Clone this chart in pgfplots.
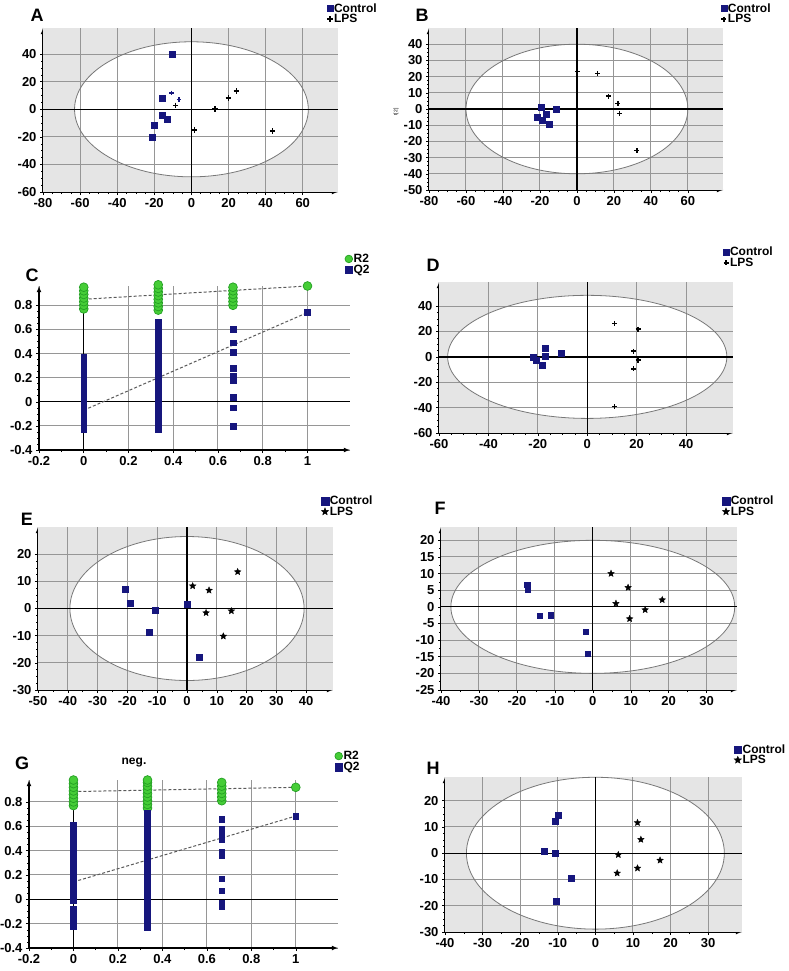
\documentclass[border=0pt]{standalone}
\usepackage{fontspec}
\setmainfont{Liberation Sans}
\usepackage{pgfplots}
\pgfplotsset{compat=1.18}
\definecolor{navy}{RGB}{22,22,125}
\definecolor{bggray}{RGB}{229,229,229}
\definecolor{gridgray}{RGB}{150,150,150}
\definecolor{ellgray}{RGB}{120,120,120}
\definecolor{rgreen}{RGB}{70,205,55}
\definecolor{rgreendk}{RGB}{35,160,35}

\pgfdeclareplotmark{fstar}{%
 \pgfpathmoveto{\pgfpointpolar{90}{\pgfplotmarksize}}%
 \pgfpathlineto{\pgfpointpolar{126}{0.45\pgfplotmarksize}}%
 \pgfpathlineto{\pgfpointpolar{162}{\pgfplotmarksize}}%
 \pgfpathlineto{\pgfpointpolar{198}{0.45\pgfplotmarksize}}%
 \pgfpathlineto{\pgfpointpolar{234}{\pgfplotmarksize}}%
 \pgfpathlineto{\pgfpointpolar{270}{0.45\pgfplotmarksize}}%
 \pgfpathlineto{\pgfpointpolar{306}{\pgfplotmarksize}}%
 \pgfpathlineto{\pgfpointpolar{342}{0.45\pgfplotmarksize}}%
 \pgfpathlineto{\pgfpointpolar{18}{\pgfplotmarksize}}%
 \pgfpathlineto{\pgfpointpolar{54}{0.45\pgfplotmarksize}}%
 \pgfpathclose
 \pgfusepathqfillstroke}

\pgfplotsset{
 panel/.style={
  scale only axis, clip=false,
  axis x line=bottom, axis y line=left,
  axis line style={black, line width=1.1pt, -latex},
  major grid style={gridgray, line width=1pt},
  tick align=outside, major tick length=3pt, minor tick length=2pt,
  tick style={black, line width=0.5pt},
  minor tick num=3,
  tick label style={font=\bfseries\fontsize{13}{13}\selectfont},
  /pgf/number format/assume math mode=true,
  legend style={draw=none, fill=none, inner sep=0pt, outer sep=0pt, anchor=north west,
    font=\bfseries\fontsize{12}{12}\selectfont, row sep=0.5pt, column sep=1pt,
    nodes={inner sep=0pt}},
  legend cell align=left,
  legend image code/.code={\draw[##1] plot coordinates {(2pt,0pt)};},
 },
 ctrl/.style={only marks, mark=square*, mark size=3pt, navy, mark options={fill=navy, draw=navy}},
 lpsplus/.style={only marks, mark=+, mark size=2.8pt, black, line width=1.6pt},
 lpsstar/.style={only marks, mark=fstar, mark size=3.4pt, black},
 rtwo/.style={only marks, mark=*, mark size=4.4pt, mark options={fill=rgreen, draw=rgreendk, line width=0.7pt}},
 qtwo/.style={only marks, mark=square*, mark size=2.9pt, navy},
 regline/.style={densely dashed, line width=1pt, black!65, no marks},
 bigleg/.style={legend image code/.code={\draw[##1, mark size=3.8pt] plot coordinates {(3pt,0pt)};}},
}

% background: xmin xmax ymin ymax rx ry xgrid ygrid
\newcommand{\bgell}[8]{%
 \fill[bggray] (axis cs:#1,#3) rectangle (axis cs:#2,#4);
 \fill[white] (axis cs:0,0) ellipse [x radius=#5, y radius=#6];
 \pgfplotsinvokeforeach{#7}{\draw[gridgray, line width=1pt] (axis cs:##1,#3) -- (axis cs:##1,#4);}
 \pgfplotsinvokeforeach{#8}{\draw[gridgray, line width=1pt] (axis cs:#1,##1) -- (axis cs:#2,##1);}
 \draw[ellgray, line width=0.8pt] (axis cs:0,0) ellipse [x radius=#5, y radius=#6];
 \draw[black, line width=1.3pt] (axis cs:#1,0) -- (axis cs:#2,0);
 \draw[black, line width=1.3pt] (axis cs:0,#3) -- (axis cs:0,#4);
}
\newcommand{\zl}[4]{%
 \draw[black, line width=1.3pt] (axis cs:#1,0) -- (axis cs:#2,0);
 \draw[black, line width=1.3pt] (axis cs:0,#3) -- (axis cs:0,#4);
}

\begin{document}
\begin{tikzpicture}
\path[use as bounding box] (0pt,0pt) rectangle (789pt,-971pt);

% ---------------- A ----------------
\begin{axis}[panel, at={(43pt,-192pt)}, anchor=south west, width=295pt, height=164pt,
  xmin=-80, xmax=79, ymin=-60, ymax=59,
  xtick={-80,-60,...,60}, ytick={-60,-40,...,40},
  legend style={at={(0.963,1.15)}}]
\bgell{-80}{79}{-60}{59}{63}{49}{-60,-40,-20,20,40,60}{-40,-20,20,40}
\addplot[ctrl] coordinates {(-10.6,40) (-15.7,7.9) (-16,-4.4) (-13,-7.4) (-20,-11.6) (-20.9,-20.2)};
\addlegendentry{Control}
\addplot[lpsplus] coordinates {(-8.5,2.8) (1.7,-14.8) (12.8,0.3) (20,8) (24.3,13.3) (43.8,-15.6)};
\addlegendentry{LPS}
\addplot[only marks, mark=+, mark size=2.3pt, navy, line width=1.2pt, forget plot] coordinates {(-10.8,11.9) (-6.7,6.9)};
\end{axis}

% ---------------- B ----------------
\begin{axis}[panel, at={(429pt,-190pt)}, anchor=south west, width=294pt, height=162pt,
  xmin=-80, xmax=79, ymin=-50, ymax=50,
  xtick={-80,-60,...,60}, ytick={-50,-40,...,40},
  legend style={at={(0.993,1.152)}}]
\bgell{-80}{79}{-50}{50}{60}{40}{-60,-40,-20,20,40,60}{-40,-30,-20,-10,10,20,30,40}
\addplot[ctrl] coordinates {(-19.3,1) (-11.4,0) (-21.6,-5.1) (-16.8,-3.3) (-19,-7.2) (-15,-9.5)};
\addlegendentry{Control}
\addplot[lpsplus, mark size=2.5pt, line width=1.4pt] coordinates {(0.4,23) (11.2,22) (17,8) (22.2,3.3) (23,-2.7) (32.4,-25.7)};
\addlegendentry{LPS}
\end{axis}
\node[rotate=90, font=\fontsize{5}{5}\selectfont] at (396pt,-112pt) {t[2]};

% ---------------- C ----------------
\begin{axis}[panel, grid=major, at={(39pt,-450pt)}, anchor=south west, width=311pt, height=164pt,
  xmin=-0.2, xmax=1.19, ymin=-0.4, ymax=0.96,
  xtick={-0.2,0,...,1}, ytick={-0.4,-0.2,...,0.8}, minor x tick num=1, minor y tick num=3,
  legend style={at={(0.984,1.195)}, row sep=1pt}, bigleg]
\zl{-0.2}{1.19}{-0.4}{0.8}
\addplot[rtwo] coordinates {
 (0,0.77) (0,0.80) (0,0.83) (0,0.86) (0,0.89) (0,0.92) (0,0.95)
 (0.333,0.76) (0.333,0.79) (0.333,0.82) (0.333,0.85) (0.333,0.88) (0.333,0.91) (0.333,0.94) (0.333,0.97)
 (0.667,0.80) (0.667,0.83) (0.667,0.86) (0.667,0.89) (0.667,0.92) (0.667,0.95)
 (1,0.96)};
\addlegendentry{R2}
\addplot[qtwo] coordinates {
 (0,-0.23) (0,-0.21) (0,-0.19) (0,-0.17) (0,-0.15) (0,-0.13) (0,-0.11) (0,-0.09) (0,-0.07) (0,-0.05)
 (0,-0.03) (0,-0.01) (0,0.01) (0,0.03) (0,0.05) (0,0.07) (0,0.09) (0,0.11) (0,0.13) (0,0.15)
 (0,0.17) (0,0.19) (0,0.21) (0,0.23) (0,0.25) (0,0.27) (0,0.29) (0,0.31) (0,0.33) (0,0.35) (0,0.37)
 (0.333,-0.23) (0.333,-0.21) (0.333,-0.19) (0.333,-0.17) (0.333,-0.15) (0.333,-0.13) (0.333,-0.11)
 (0.333,-0.09) (0.333,-0.07) (0.333,-0.05) (0.333,-0.03) (0.333,-0.01) (0.333,0.01) (0.333,0.03)
 (0.333,0.05) (0.333,0.07) (0.333,0.09) (0.333,0.11) (0.333,0.13) (0.333,0.15) (0.333,0.17)
 (0.333,0.19) (0.333,0.21) (0.333,0.23) (0.333,0.25) (0.333,0.27) (0.333,0.29) (0.333,0.31)
 (0.333,0.33) (0.333,0.35) (0.333,0.37) (0.333,0.39) (0.333,0.41) (0.333,0.43) (0.333,0.46)
 (0.333,0.50) (0.333,0.55) (0.333,0.58) (0.333,0.61) (0.333,0.64) (0.333,0.66)
 (0.667,0.60) (0.667,0.49) (0.667,0.41) (0.667,0.28) (0.667,0.21) (0.667,0.18) (0.667,0.04) (0.667,-0.05) (0.667,-0.20)
 (1,0.74)};
\addlegendentry{Q2}
\addplot[regline, forget plot] coordinates {(0,0.85) (1,0.96)};
\addplot[regline, forget plot] coordinates {(0,-0.07) (1,0.74)};
\end{axis}

% ---------------- D ----------------
\begin{axis}[panel, at={(439pt,-433pt)}, anchor=south west, width=294pt, height=151pt,
  xmin=-60, xmax=59, ymin=-60, ymax=59,
  xtick={-60,-40,...,40}, ytick={-60,-40,...,40},
  legend style={at={(0.966,1.23)}}]
\bgell{-60}{59}{-60}{59}{56.5}{48.5}{-40,-20,20,40}{-40,-20,20,40}
\addplot[ctrl] coordinates {(-21.7,0) (-20.8,-2.6) (-18.3,-6.5) (-17.2,6.7) (-17,0.3) (-10.5,2.8)};
\addlegendentry{Control}
\addplot[lpsplus, mark size=2.5pt, line width=1.4pt] coordinates {(11.1,26.3) (20.6,21.9) (18.7,4.6) (20.6,-2.6) (18.7,-9.5) (11.1,-39.2)};
\addlegendentry{LPS}
\end{axis}

% ---------------- E ----------------
\begin{axis}[panel, at={(38pt,-690pt)}, anchor=south west, width=295pt, height=163pt,
  xmin=-50, xmax=49, ymin=-30, ymax=30,
  xtick={-50,-40,...,40}, ytick={-30,-20,...,20}, minor x tick num=1,
  legend style={at={(0.96,1.19)}}, bigleg]
\bgell{-50}{49}{-30}{30}{39.3}{26.5}{-40,-30,-20,-10,10,20,30,40}{-20,-10,10,20}
\addplot[ctrl] coordinates {(-20.7,7) (-19,2.1) (-10.6,-0.6) (-12.8,-8.8) (0,1.5) (4.2,-18)};
\addlegendentry{Control}
\addplot[lpsstar] coordinates {(1.9,8.3) (7.4,6.7) (6.4,-1.6) (14.9,-0.9) (12.2,-10.2) (17,13.5)};
\addlegendentry{LPS}
\end{axis}

% ---------------- F ----------------
\begin{axis}[panel, at={(441pt,-690pt)}, anchor=south west, width=296pt, height=163pt,
  xmin=-40, xmax=38, ymin=-25, ymax=24,
  xtick={-40,-30,...,30}, ytick={-25,-20,...,20}, minor x tick num=1, minor y tick num=1,
  legend style={at={(0.95,1.19)}}, bigleg]
\bgell{-40}{38}{-25}{24}{37.4}{20}{-30,-20,-10,10,20,30}{-20,-15,-10,-5,5,10,15,20}
\addplot[ctrl, mark size=2.6pt] coordinates {(-17.3,6.6) (-17.2,5.2) (-14,-2.7) (-11,-2.5) (-1.8,-7.5) (-1.4,-14)};
\addlegendentry{Control}
\addplot[lpsstar] coordinates {(4.8,10) (9.3,5.8) (6.1,1) (9.7,-3.6) (13.8,-0.9) (18.3,2.1)};
\addlegendentry{LPS}
\end{axis}

% ---------------- G ----------------
\begin{axis}[panel, grid=major, at={(29pt,-948pt)}, anchor=south west, width=309pt, height=168pt,
  xmin=-0.2, xmax=1.19, ymin=-0.4, ymax=0.98,
  xtick={-0.2,0,...,1}, ytick={-0.4,-0.2,...,0.8}, minor x tick num=1, minor y tick num=3,
  legend style={at={(0.99,1.172)}, row sep=1pt}, bigleg]
\zl{-0.2}{1.19}{-0.4}{0.8}
\addplot[rtwo] coordinates {
 (0,0.77) (0,0.80) (0,0.83) (0,0.86) (0,0.89) (0,0.92) (0,0.95) (0,0.98)
 (0.333,0.75) (0.333,0.78) (0.333,0.81) (0.333,0.84) (0.333,0.87) (0.333,0.90) (0.333,0.93) (0.333,0.96) (0.333,0.98)
 (0.667,0.81) (0.667,0.84) (0.667,0.87) (0.667,0.90) (0.667,0.93) (0.667,0.96)
 (1,0.92)};
\addlegendentry{R2}
\addplot[qtwo] coordinates {
 (0,-0.22) (0,-0.20) (0,-0.18) (0,-0.16) (0,-0.14) (0,-0.12) (0,-0.10) (0,-0.08)
 (0,-0.01) (0,0.01) (0,0.03) (0,0.05) (0,0.07) (0,0.09) (0,0.11) (0,0.13) (0,0.15) (0,0.17)
 (0,0.19) (0,0.21) (0,0.23) (0,0.25) (0,0.27) (0,0.29) (0,0.31) (0,0.33) (0,0.35) (0,0.37)
 (0,0.39) (0,0.41) (0,0.43) (0,0.45) (0,0.47) (0,0.49) (0,0.51) (0,0.53) (0,0.55) (0,0.57) (0,0.59) (0,0.61)
 (0.333,-0.23) (0.333,-0.21) (0.333,-0.19) (0.333,-0.17) (0.333,-0.15) (0.333,-0.13) (0.333,-0.11)
 (0.333,-0.09) (0.333,-0.07) (0.333,-0.05) (0.333,-0.03) (0.333,-0.01) (0.333,0.01) (0.333,0.03)
 (0.333,0.05) (0.333,0.07) (0.333,0.09) (0.333,0.11) (0.333,0.13) (0.333,0.15) (0.333,0.17)
 (0.333,0.19) (0.333,0.21) (0.333,0.23) (0.333,0.25) (0.333,0.27) (0.333,0.29) (0.333,0.31)
 (0.333,0.33) (0.333,0.35) (0.333,0.37) (0.333,0.39) (0.333,0.41) (0.333,0.43) (0.333,0.45)
 (0.333,0.47) (0.333,0.49) (0.333,0.51) (0.333,0.53) (0.333,0.55) (0.333,0.57) (0.333,0.59)
 (0.333,0.61) (0.333,0.63) (0.333,0.65) (0.333,0.67) (0.333,0.69) (0.333,0.71)
 (0.667,0.66) (0.667,0.58) (0.667,0.54) (0.667,0.49) (0.667,0.39) (0.667,0.36) (0.667,0.17) (0.667,0.07) (0.667,-0.03) (0.667,-0.06)
 (1,0.68)};
\addlegendentry{Q2}
\addplot[regline, forget plot] coordinates {(0,0.885) (1,0.92)};
\addplot[regline, forget plot] coordinates {(0,0.143) (1,0.684)};
\end{axis}
\node[font=\bfseries\fontsize{12}{12}\selectfont] at (134pt,-763pt) {neg.};

% ---------------- H ----------------
\begin{axis}[panel, at={(445pt,-932pt)}, anchor=south west, width=297pt, height=155pt,
  xmin=-40, xmax=39, ymin=-30, ymax=29,
  xtick={-40,-30,...,30}, ytick={-30,-20,...,20}, minor x tick num=1,
  legend style={at={(0.973,1.21)}}, bigleg]
\bgell{-40}{39}{-30}{29}{34.3}{28.9}{-30,-20,-10,10,20,30}{-20,-10,10,20}
\addplot[ctrl] coordinates {(-10.7,12.3) (-9.8,14.3) (-13.6,0.6) (-10.7,0) (-6.5,-9.4) (-10.5,-18.1)};
\addlegendentry{Control}
\addplot[lpsstar] coordinates {(11.2,11.6) (12.1,5.2) (6.1,-0.6) (5.8,-7.6) (11.2,-5.7) (17.2,-2.7)};
\addlegendentry{LPS}
\end{axis}

% panel letters
\node[font=\bfseries\fontsize{18}{18}\selectfont] at (37pt,-15pt) {A};
\node[font=\bfseries\fontsize{18}{18}\selectfont] at (422pt,-15pt) {B};
\node[font=\bfseries\fontsize{18}{18}\selectfont] at (32pt,-275pt) {C};
\node[font=\bfseries\fontsize{18}{18}\selectfont] at (433pt,-265pt) {D};
\node[font=\bfseries\fontsize{18}{18}\selectfont] at (27pt,-519pt) {E};
\node[font=\bfseries\fontsize{18}{18}\selectfont] at (440pt,-508pt) {F};
\node[font=\bfseries\fontsize{18}{18}\selectfont] at (22pt,-763pt) {G};
\node[font=\bfseries\fontsize{18}{18}\selectfont] at (433pt,-768pt) {H};
\end{tikzpicture}
\end{document}
